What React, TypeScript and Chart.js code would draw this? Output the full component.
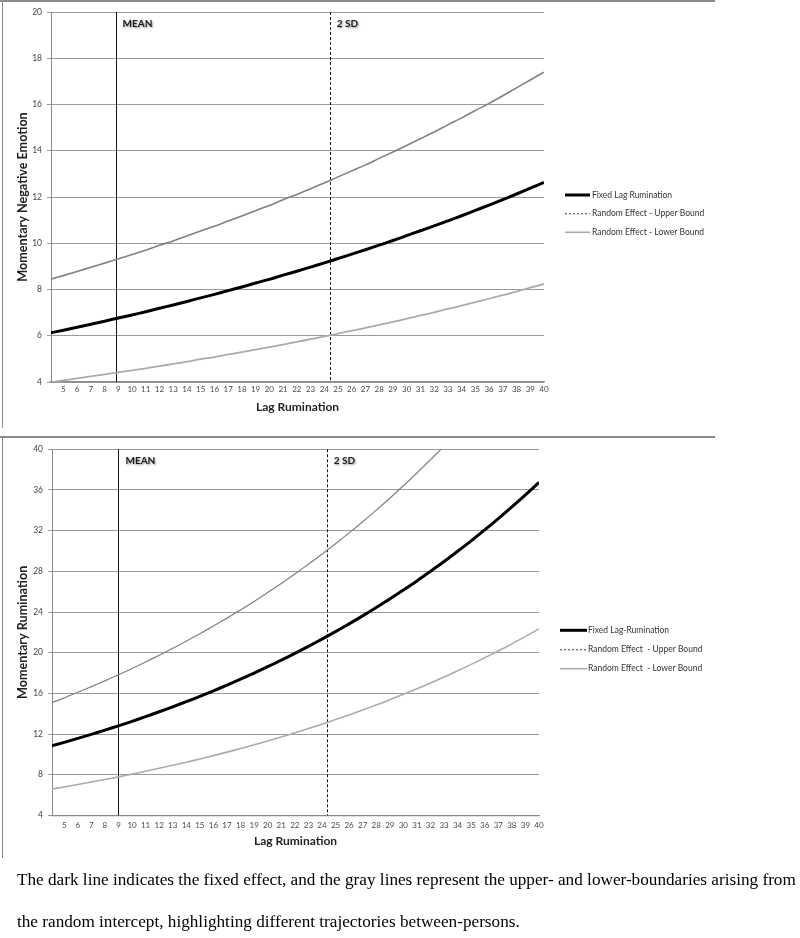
import React, { useEffect, useRef } from "react";
import { Chart, registerables } from "chart.js";

Chart.register(...registerables);

// ---------- data ----------
const xValues = [4, 5, 6, 7, 8, 9, 10, 11, 12, 13, 14, 15, 16, 17, 18, 19, 20, 21, 22, 23, 24, 25, 26, 27, 28, 29, 30, 31, 32, 33, 34, 35, 36, 37, 38, 39, 40];
const xTickLabels = [5, 6, 7, 8, 9, 10, 11, 12, 13, 14, 15, 16, 17, 18, 19, 20, 21, 22, 23, 24, 25, 26, 27, 28, 29, 30, 31, 32, 33, 34, 35, 36, 37, 38, 39, 40];

const emotionFixed = [6.12, 6.24, 6.37, 6.5, 6.63, 6.77, 6.9, 7.04, 7.19, 7.33, 7.48, 7.64, 7.79, 7.95, 8.11, 8.28, 8.44, 8.62, 8.79, 8.97, 9.15, 9.34, 9.53, 9.72, 9.92, 10.12, 10.33, 10.54, 10.75, 10.97, 11.19, 11.42, 11.65, 11.89, 12.13, 12.38, 12.63];
const emotionUpper = [8.43, 8.6, 8.78, 8.96, 9.14, 9.33, 9.51, 9.7, 9.91, 10.1, 10.31, 10.53, 10.73, 10.96, 11.18, 11.41, 11.63, 11.88, 12.11, 12.36, 12.61, 12.87, 13.13, 13.39, 13.67, 13.95, 14.23, 14.52, 14.81, 15.12, 15.42, 15.74, 16.05, 16.38, 16.72, 17.06, 17.4];
const emotionLower = [3.99, 4.07, 4.16, 4.24, 4.33, 4.42, 4.5, 4.59, 4.69, 4.78, 4.88, 4.99, 5.08, 5.19, 5.29, 5.4, 5.51, 5.62, 5.74, 5.85, 5.97, 6.09, 6.22, 6.34, 6.47, 6.6, 6.74, 6.88, 7.01, 7.16, 7.3, 7.45, 7.6, 7.76, 7.91, 8.08, 8.24];

const ruminationFixed = [10.81, 11.18, 11.57, 11.97, 12.38, 12.81, 13.25, 13.71, 14.19, 14.68, 15.18, 15.71, 16.25, 16.81, 17.39, 17.99, 18.62, 19.26, 19.93, 20.62, 21.33, 22.07, 22.83, 23.62, 24.44, 25.28, 26.16, 27.06, 28.0, 28.96, 29.97, 31.0, 32.07, 33.18, 34.33, 35.52, 36.75];
const ruminationUpper = [15.05, 15.56, 16.11, 16.66, 17.23, 17.83, 18.44, 19.08, 19.75, 20.43, 21.13, 21.87, 22.62, 23.4, 24.21, 25.04, 25.92, 26.81, 27.74, 28.7, 29.69, 30.72, 31.78, 32.88, 34.02, 35.19, 36.41, 37.67, 38.98, 40.31, 41.72, 43.15, 44.64, 46.19, 47.79, 49.44, 51.16];
const ruminationLower = [6.57, 6.8, 7.03, 7.28, 7.53, 7.79, 8.06, 8.34, 8.63, 8.93, 9.23, 9.55, 9.88, 10.22, 10.57, 10.94, 11.32, 11.71, 12.12, 12.54, 12.97, 13.42, 13.88, 14.36, 14.86, 15.37, 15.91, 16.45, 17.02, 17.61, 18.22, 18.85, 19.5, 20.17, 20.87, 21.6, 22.34];

const emotionYTicks = [4, 6, 8, 10, 12, 14, 16, 18, 20];
const ruminationYTicks = [4, 8, 12, 16, 20, 24, 28, 32, 36, 40];

const emotionMarkers = [8.8, 24.4];
const ruminationMarkers = [9.0, 24.36];
const markerLabels = ["MEAN", "2 SD"];

const emotionLegend = ["Fixed Lag Rumination", "Random Effect - Upper Bound", "Random Effect - Lower Bound"];
const ruminationLegend = ["Fixed Lag-Rumination", "Random Effect  - Upper Bound", "Random Effect  - Lower Bound"];

const captionLines = [
  "The dark line indicates the fixed effect, and the gray lines represent the upper- and lower-boundaries arising from",
  "the random intercept, highlighting different trajectories between-persons.",
];

// ---------- styles ----------
const SANS = "Lato, 'Open Sans', sans-serif";

type Spec = {
  top: number;
  height: number;
  area: { left: number; right: number; top: number; bottom: number };
  fixed: number[];
  upper: number[];
  lower: number[];
  yMin: number;
  yMax: number;
  yTicks: number[];
  yTitle: string;
  markers: number[];
  legend: string[];
  legendLine: [number, number];
  legendTextX: number;
  legendY: number[];
  titleBottomPad: number;
  xTickPad: number;
  upperWidth: number;
  lowerWidth: number;
};

const specs: Spec[] = [
  {
    top: 0,
    height: 430,
    area: { left: 51, right: 544, top: 12, bottom: 382 },
    fixed: emotionFixed,
    upper: emotionUpper,
    lower: emotionLower,
    yMin: 4,
    yMax: 20,
    yTicks: emotionYTicks,
    yTitle: "Momentary Negative Emotion",
    markers: emotionMarkers,
    legend: emotionLegend,
    legendLine: [565, 590],
    legendTextX: 592,
    legendY: [195, 213.7, 232.3],
    titleBottomPad: 16,
    xTickPad: 3,
    upperWidth: 1.6,
    lowerWidth: 1.8,
  },
  {
    top: 436,
    height: 424,
    area: { left: 52, right: 539, top: 13.3, bottom: 379.4 },
    fixed: ruminationFixed,
    upper: ruminationUpper,
    lower: ruminationLower,
    yMin: 4,
    yMax: 40,
    yTicks: ruminationYTicks,
    yTitle: "Momentary Rumination",
    markers: ruminationMarkers,
    legend: ruminationLegend,
    legendLine: [560, 587],
    legendTextX: 588,
    legendY: [194.3, 213.7, 232.7],
    titleBottomPad: 12,
    xTickPad: 5.5,
    upperWidth: 1.2,
    lowerWidth: 1.6,
  },
];

function Panel({ spec }: { spec: Spec }) {
  const ref = useRef<HTMLCanvasElement | null>(null);

  useEffect(() => {
    const canvas = ref.current;
    if (!canvas) return;

    const toPts = (arr: number[]) => arr.map((y, i) => ({ x: xValues[i], y }));

    const markerPlugin = {
      id: "markers",
      beforeDatasetsDraw(chart: any) {
        const { ctx, chartArea, scales } = chart;
        const xs = scales.x;
        ctx.save();
        spec.markers.forEach((m, i) => {
          const px = Math.round(xs.getPixelForValue(m)) + 0.5;
          ctx.beginPath();
          ctx.strokeStyle = "#111";
          ctx.lineWidth = 1;
          ctx.setLineDash(i === 0 ? [] : [3, 2]);
          ctx.moveTo(px, chartArea.top);
          ctx.lineTo(px, chartArea.bottom);
          ctx.stroke();
        });
        ctx.setLineDash([]);
        ctx.font = `bold 10px ${SANS}`;
        ctx.textBaseline = "middle";
        ctx.textAlign = "left";
        spec.markers.forEach((m, i) => {
          const px = xs.getPixelForValue(m);
          ctx.save();
          ctx.shadowColor = "rgba(0,0,0,0.45)";
          ctx.shadowBlur = 2;
          ctx.shadowOffsetX = 1;
          ctx.shadowOffsetY = 1;
          ctx.fillStyle = "#1a1a1a";
          ctx.fillText(markerLabels[i], px + 7, chartArea.top + 11.5);
          ctx.restore();
        });
        ctx.restore();
      },
    };

    const legendPlugin = {
      id: "sideLegend",
      afterDraw(chart: any) {
        const { ctx } = chart;
        ctx.save();
        const styles = [
          { color: "#000", width: 3, dash: [] as number[] },
          { color: "#666", width: 1.3, dash: [2, 2] },
          { color: "#aaa", width: 1.6, dash: [] as number[] },
        ];
        spec.legend.forEach((label, i) => {
          const y = spec.legendY[i];
          const s = styles[i];
          ctx.beginPath();
          ctx.strokeStyle = s.color;
          ctx.lineWidth = s.width;
          ctx.setLineDash(s.dash);
          ctx.moveTo(spec.legendLine[0], y);
          ctx.lineTo(spec.legendLine[1], y);
          ctx.stroke();
          ctx.setLineDash([]);
          ctx.font = `8.5px ${SANS}`;
          ctx.fillStyle = "#333";
          ctx.textAlign = "left";
          ctx.textBaseline = "middle";
          ctx.fillText(label, spec.legendTextX, y);
        });
        ctx.restore();
      },
    };

    const chart = new Chart(canvas, {
      type: "line",
      data: {
        datasets: [
          {
            label: spec.legend[0],
            data: toPts(spec.fixed),
            borderColor: "#000",
            borderWidth: 3,
            pointRadius: 0,
            tension: 0.3,
          },
          {
            label: spec.legend[1],
            data: toPts(spec.upper),
            borderColor: "#808080",
            borderWidth: spec.upperWidth,
            pointRadius: 0,
            tension: 0.3,
          },
          {
            label: spec.legend[2],
            data: toPts(spec.lower),
            borderColor: "#ababab",
            borderWidth: spec.lowerWidth,
            pointRadius: 0,
            tension: 0.3,
          },
        ],
      },
      options: {
        animation: false,
        responsive: false,
        maintainAspectRatio: false,
        events: [],
        layout: {
          padding: { left: 0, top: spec.area.top, right: 800 - spec.area.right, bottom: 0 },
        },
        plugins: {
          legend: { display: false },
          tooltip: { enabled: false },
          title: { display: false },
        },
        scales: {
          x: {
            type: "linear",
            min: 4.1,
            max: 40,
            afterFit(scale: any) {
              scale.height = spec.height - spec.area.bottom;
            },
            afterBuildTicks(scale: any) {
              scale.ticks = xTickLabels.map((v) => ({ value: v }));
            },
            grid: { display: false, drawTicks: false },
            border: { display: true, color: "#8a8a8a", width: 1.2 },
            ticks: {
              autoSkip: false,
              maxRotation: 0,
              minRotation: 0,
              padding: spec.xTickPad,
              color: "#4a4a4a",
              font: { family: SANS, size: 8 },
            },
            title: {
              display: true,
              text: "Lag Rumination",
              color: "#222",
              font: { family: SANS, size: 12, weight: "bold" },
              padding: { top: 0, bottom: spec.titleBottomPad },
            },
          },
          y: {
            type: "linear",
            min: spec.yMin,
            max: spec.yMax,
            afterFit(scale: any) {
              scale.width = spec.area.left;
            },
            afterBuildTicks(scale: any) {
              scale.ticks = spec.yTicks.map((v) => ({ value: v }));
            },
            grid: { color: "#9a9a9a", lineWidth: 1, tickLength: 4, drawTicks: true },
            border: { display: true, color: "#8a8a8a", width: 1 },
            ticks: {
              padding: 5,
              color: "#444",
              font: { family: SANS, size: 8.5 },
            },
            title: {
              display: true,
              text: spec.yTitle,
              color: "#222",
              font: { family: SANS, size: 12.6, weight: "bold" },
              padding: { top: 15.5, bottom: 0 },
            },
          },
        },
      },
      plugins: [markerPlugin, legendPlugin],
    } as any);

    return () => chart.destroy();
  }, [spec]);

  return (
    <div style={{ position: "absolute", left: 0, top: spec.top, width: 800, height: spec.height }}>
      <canvas ref={ref} width={800} height={spec.height} style={{ width: 800, height: spec.height, display: "block" }} />
    </div>
  );
}

export default function App() {
  return (
    <div style={{ position: "absolute", left: 0, top: 0, width: 800, height: 938, background: "#fff", overflow: "hidden" }}>
      {specs.map((s, i) => (
        <Panel key={i} spec={s} />
      ))}
      {/* chart frames */}
      <div style={{ position: "absolute", left: 0, top: 0, width: 715, height: 1.5, background: "#8c8c8c" }} />
      <div style={{ position: "absolute", left: 1.5, top: 0, width: 1.5, height: 428, background: "#8c8c8c" }} />
      <div style={{ position: "absolute", left: 0, top: 436, width: 715, height: 1.5, background: "#8c8c8c" }} />
      <div style={{ position: "absolute", left: 1.5, top: 436, width: 1.5, height: 422, background: "#8c8c8c" }} />
      <div
        style={{
          position: "absolute",
          left: 17,
          top: 859,
          width: 800,
          fontFamily: "'Liberation Serif', 'Times New Roman', serif",
          fontSize: 17.2,
          lineHeight: "41.7px",
          color: "#000",
          whiteSpace: "nowrap",
        }}
      >
        {captionLines.map((l, i) => (
          <div key={i}>{l}</div>
        ))}
      </div>
    </div>
  );
}
